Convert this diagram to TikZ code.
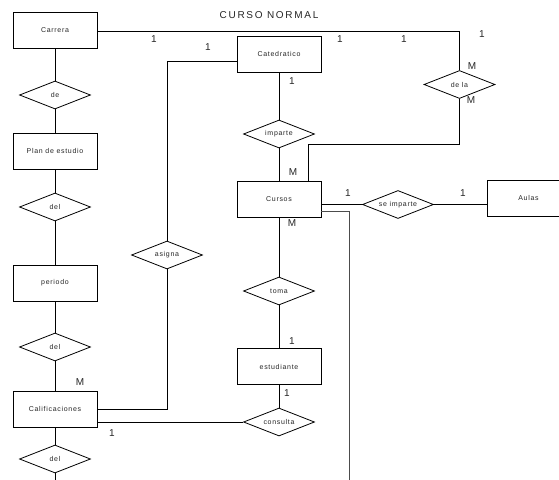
\documentclass[tikz,border=0pt]{standalone}
\usepackage{fontspec}
\setmainfont{Liberation Sans}
\newfontfamily\boxfont[LetterSpace=10]{Liberation Sans}
\newfontfamily\titlefont[LetterSpace=17]{Liberation Sans}
\usetikzlibrary{shapes.geometric}
\tikzset{
  entity/.style={draw=black, line width=0.8pt, rectangle, minimum width=84pt,
    minimum height=36pt, inner sep=0pt, font=\boxfont\fontsize{7}{8}\selectfont, text=black!85},
  relation/.style={draw=black, line width=0.8pt, diamond, aspect=2.5, minimum width=71pt,
    minimum height=28pt, inner sep=0pt, font=\boxfont\fontsize{7}{8}\selectfont, text=black!85},
  link/.style={line width=0.8pt, black},
  card/.style={font=\fontsize{10}{11}\selectfont, text=black!85, inner sep=0pt}
}
\begin{document}
\begin{tikzpicture}[x=1pt, y=-1pt]
\clip (0,0) rectangle (559,479);
\fill[white] (0,0) rectangle (559,479);

% title
\node[font=\titlefont\fontsize{10}{12}\selectfont, text=black!85] (title) at (269,15) {CURSO NORMAL};

% left column
\node[entity] (carrera) at (55,30.5) {Carrera};
\node[relation] (de) at (55,95) {de};
\node[entity] (plan) at (55,151) {Plan de estudio};
\node[relation] (del1) at (55,207) {del};
\node[entity] (periodo) at (55,283) {periodo};
\node[relation] (del2) at (55,347) {del};
\node[entity] (calif) at (55,409) {Calificaciones};
\node[relation] (del3) at (55,459) {del};
\coordinate (leftend) at (55,485);

% middle column
\node[entity] (catedratico) at (279,54) {Catedratico};
\node[relation] (imparte) at (279,134) {imparte};
\node[entity] (cursos) at (279,199) {Cursos};
\node[relation] (toma) at (279,291) {toma};
\node[entity] (estudiante) at (279,366.5) {estudiante};
\node[relation] (consulta) at (279,422) {consulta};
\node[relation] (asigna) at (167,255) {asigna};

% right side
\node[relation] (dela) at (459.5,84.5) {de la};
\node[relation] (seimparte) at (398,204.5) {se imparte};
\node[entity, minimum width=83pt] (aulas) at (528.5,198) {Aulas};
\coordinate (rightend) at (349,485);

% connectors of the left column
\draw[link] (carrera) -- (de);
\draw[link] (de) -- (plan);
\draw[link] (plan) -- (del1);
\draw[link] (del1) -- (periodo);
\draw[link] (periodo) -- (del2);
\draw[link] (del2) -- (calif);
\draw[link] (calif) -- (del3);
\draw[link] (del3.south) -- (leftend);

% connectors of the middle column
\draw[link] (catedratico) -- (imparte);
\draw[link] (imparte) -- (cursos);
\draw[link] (cursos) -- (toma);
\draw[link] (toma) -- (estudiante);
\draw[link] (estudiante) -- (consulta);

% long connectors
\draw[link] ([yshift=-0.5pt]carrera.east) -| (dela.north);
\draw[link] (dela.south) -- (dela.south |- 0,144) -| ([xshift=29pt]cursos.north);
\draw[link] ([yshift=-7pt]catedratico.west) -| (asigna.north);
\draw[link] (calif.east) -| (asigna.south);
\draw[link] (consulta.west) -- (consulta.west -| calif.east);
\draw[link] (seimparte.west) -- (seimparte.west -| cursos.east);
\draw[link] (seimparte.east) -- (seimparte.east -| aulas.west);
\draw[line width=1pt, black!70] (cursos.east |- 0,211) -| (rightend);

% cardinalities
\node[card] (c1) at (154,39) {1};
\node[card] (c2) at (208,47) {1};
\node[card] (c3) at (340,39) {1};
\node[card] (c4) at (404,39) {1};
\node[card] (c5) at (482,34) {1};
\node[card] (c6) at (472,66) {M};
\node[card] (c7) at (471,100) {M};
\node[card] (c8) at (292,81) {1};
\node[card] (c9) at (293,172) {M};
\node[card] (c10) at (292,223) {M};
\node[card] (c11) at (348,193) {1};
\node[card] (c12) at (463,193) {1};
\node[card] (c13) at (292,341) {1};
\node[card] (c14) at (287,393) {1};
\node[card] (c15) at (80,382) {M};
\node[card] (c16) at (112,433) {1};
\end{tikzpicture}
\end{document}
